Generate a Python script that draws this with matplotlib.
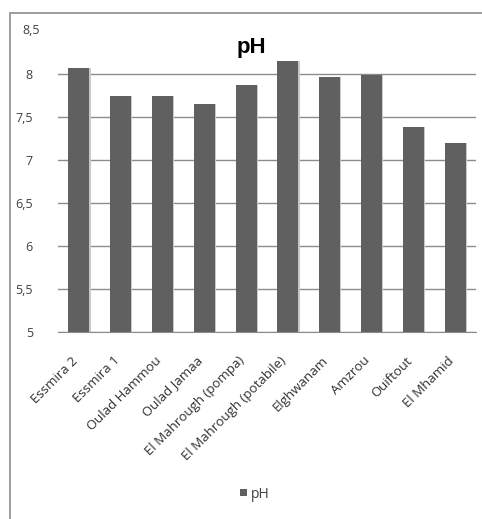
import matplotlib.pyplot as plt
import matplotlib.transforms as mtransforms
from matplotlib.patches import Rectangle
import numpy as np

sites = ['Essmira 2', 'Essmira 1', 'Oulad Hammou', 'Oulad Jamaa',
         'El Mahrough (pompa)', 'El Mahrough (potabile)', 'Elghwanam',
         'Amzrou', 'Ouiftout', 'El Mhamid']
ph = [8.07, 7.74, 7.74, 7.65, 7.87, 8.15, 7.97, 7.99, 7.38, 7.2]
yticks = [5, 5.5, 6, 6.5, 7, 7.5, 8]
ylabels = ['5', '5,5', '6', '6,5', '7', '7,5', '8']

plt.rcParams['font.family'] = ['Open Sans', 'DejaVu Sans']

fig = plt.figure(figsize=(4.82, 5.19), dpi=100)
# outer chart frame
fig.patches.append(Rectangle((10 / 482, -0.05), 1.2, 1 - 13 / 519 + 0.05,
                             transform=fig.transFigure, fill=False,
                             edgecolor='#8c8c8c', lw=1.2))

ax = fig.add_axes([58 / 482, 1 - 332 / 519, 418 / 482, 301 / 519])
x = np.arange(len(sites))
# light shadow on the right of each bar
ax.bar(x + 0.03, [v - 5 for v in ph], bottom=5, width=0.5, color='#c8c8c8', zorder=2)
ax.bar(x, [v - 5 for v in ph], bottom=5, width=0.5, color='#606060', zorder=3, label='pH')

ax.set_xlim(-0.5, len(sites) - 0.5)
ax.set_ylim(5, 8.5)
ax.set_yticks(yticks)
ax.set_yticklabels(ylabels)
ax.yaxis.grid(True, color='#8c8c8c', lw=1)
ax.set_axisbelow(True)
ax.tick_params(axis='y', length=0, pad=18, labelsize=9, labelcolor='#404040')
ax.tick_params(axis='x', length=0, pad=8, labelsize=9.5, labelcolor='#303030')
ax.set_xticks(x)
ax.set_xticklabels(sites, rotation=45, ha='right', rotation_mode='anchor')
shift = mtransforms.ScaledTranslation(-8 / 100, -11 / 100, fig.dpi_scale_trans)
for lab in ax.get_xticklabels():
    lab.set_transform(lab.get_transform() + shift)
for s in ['top', 'right', 'left']:
    ax.spines[s].set_visible(False)
ax.spines['bottom'].set_color('#8c8c8c')

# 8,5 label at top (no gridline there)
ax.text(-0.93, 8.5, '8,5', fontsize=9, color='#404040', ha='right', va='center')

fig.text(251 / 482, 1 - 47 / 519, 'pH', fontsize=16, fontweight='bold',
         ha='center', va='center', family=['Liberation Sans', 'DejaVu Sans'])

fig.legend(loc='center', bbox_to_anchor=(255 / 482, 1 - 494 / 519), frameon=False,
           fontsize=10, handlelength=0.45, handleheight=0.45, handletextpad=0.3,
           labelcolor='#404040')

fig.savefig('out.png', dpi=100)
